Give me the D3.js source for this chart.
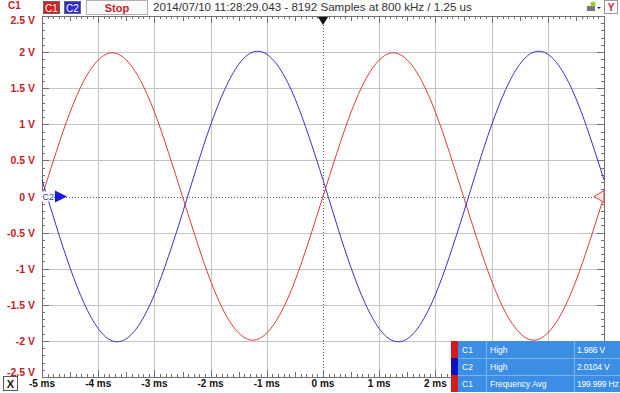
<!DOCTYPE html>
<html>
<head>
<meta charset="utf-8">
<script src="https://cdn.jsdelivr.net/npm/d3@7"></script>
<style>
  body { margin: 0; background: #fff; }
  svg { display: block; font-family: "Liberation Sans", Arial, sans-serif; }
</style>
</head>
<body>
<svg id="chart" width="620" height="393"></svg>
<script>
// sample times (ms) and the two traces
var times = [-5, -4.75, -4.5, -4.25, -4, -3.75, -3.5, -3.25, -3, -2.75, -2.5, -2.25, -2, -1.75, -1.5, -1.25, -1, -0.75, -0.5, -0.25,
             0, 0.25, 0.5, 0.75, 1, 1.25, 1.5, 1.75, 2, 2.25, 2.5, 2.75, 3, 3.25, 3.5, 3.75, 4, 4.25, 4.5, 4.75, 5];
var c1Values = [0, 0.61, 1.17, 1.61, 1.89, 1.99, 1.89, 1.61, 1.17, 0.61, 0, -0.61, -1.17, -1.61, -1.89, -1.99, -1.89, -1.61, -1.17, -0.61,
                0, 0.61, 1.17, 1.61, 1.89, 1.99, 1.89, 1.61, 1.17, 0.61, 0, -0.61, -1.17, -1.61, -1.89, -1.99, -1.89, -1.61, -1.17, -0.61, 0];
var c2Values = [0.23, -0.40, -0.99, -1.48, -1.83, -2.00, -1.97, -1.75, -1.36, -0.83, -0.23, 0.40, 0.99, 1.48, 1.83, 2.00, 1.97, 1.75, 1.36, 0.83,
                0.23, -0.40, -0.99, -1.48, -1.83, -2.00, -1.97, -1.75, -1.36, -0.83, -0.23, 0.40, 0.99, 1.48, 1.83, 2.00, 1.97, 1.75, 1.36, 0.83, 0.23];
var xTicks = [-5, -4, -3, -2, -1, 0, 1, 2, 3, 4, 5];
// 3, 4 and 5 ms labels sit under the measurement table on the screen
var xLabelTicks = [-5, -4, -3, -2, -1, 0, 1, 2];
var xTickLabels = ["-5 ms", "-4 ms", "-3 ms", "-2 ms", "-1 ms", "0 ms", "1 ms", "2 ms"];
var yTicks = [2.5, 2, 1.5, 1, 0.5, 0, -0.5, -1, -1.5, -2, -2.5];
var yTickLabels = ["2.5 V", "2 V", "1.5 V", "1 V", "0.5 V", "0 V", "-0.5 V", "-1 V", "-1.5 V", "-2 V", "-2.5 V"];
var measChannels = ["C1", "C2", "C1"];
var measNames = ["High", "High", "Frequency Avg"];
var measValues = ["1.986 V", "2.0104 V", "199.999 Hz"];
var header = "2014/07/10 11:28:29.043 - 8192 Samples at 800 kHz / 1.25 us";

var RED = "#e03a3a", BLUE = "#3434c4", LABEL_RED = "#c8202a";
var svg = d3.select("#chart");
var plotL = 42, plotR = 604, plotT = 16, plotB = 377;

var x = d3.scaleLinear().domain([-5, 5]).range([plotL, plotR]);
var y = d3.scaleLinear().domain([-2.5, 2.5]).range([plotB, plotT]);

// grid
var grid = svg.append("g");
grid.selectAll(".vg").data(xTicks.filter(function(d){ return d !== 0; }))
    .enter().append("line")
    .attr("x1", function(d){ return Math.round(x(d)) + 0.5; })
    .attr("x2", function(d){ return Math.round(x(d)) + 0.5; })
    .attr("y1", plotT).attr("y2", plotB)
    .attr("stroke", "#c4c4c4");
grid.selectAll(".hg").data(yTicks.filter(function(d){ return d !== 0; }))
    .enter().append("line")
    .attr("y1", function(d){ return Math.round(y(d)) + 0.5; })
    .attr("y2", function(d){ return Math.round(y(d)) + 0.5; })
    .attr("x1", plotL).attr("x2", plotR)
    .attr("stroke", "#c4c4c4");
// zero lines, dotted
grid.append("line")
    .attr("x1", Math.round(x(0)) + 0.5).attr("x2", Math.round(x(0)) + 0.5)
    .attr("y1", plotT).attr("y2", plotB)
    .attr("stroke", "#606060").attr("stroke-dasharray", "1,2");
grid.append("line")
    .attr("y1", Math.round(y(0)) + 0.5).attr("y2", Math.round(y(0)) + 0.5)
    .attr("x1", plotL).attr("x2", plotR)
    .attr("stroke", "#606060").attr("stroke-dasharray", "1,2");

// rulers with minor ticks
var ruler = svg.append("g").attr("stroke", "#707070").attr("shape-rendering", "crispEdges");
var xMinor = d3.range(-50, 51).map(function(i){ return i / 10; });
var yMinor = d3.range(-25, 26).map(function(i){ return i / 10; });
function tlen(i, n){ return (i % n === 0) ? 7 : ((i % (n/2) === 0) ? 5 : 3); }
xMinor.forEach(function(d, i){
    var px = Math.round(x(d)) + 0.5, l = tlen(i, 10);
    ruler.append("line").attr("x1", px).attr("x2", px).attr("y1", plotT).attr("y2", plotT + l);
    ruler.append("line").attr("x1", px).attr("x2", px).attr("y1", plotB).attr("y2", plotB - l);
});
yMinor.forEach(function(d, i){
    var py = Math.round(y(d)) + 0.5, l = tlen(i, 5);
    ruler.append("line").attr("y1", py).attr("y2", py).attr("x1", plotL).attr("x2", plotL + l);
    ruler.append("line").attr("y1", py).attr("y2", py).attr("x1", plotR).attr("x2", plotR - l);
});
ruler.append("rect").attr("x", plotL + 0.5).attr("y", plotT + 0.5)
    .attr("width", plotR - plotL).attr("height", plotB - plotT)
    .attr("fill", "none");

// traces
var c1Data = times.map(function(t, i){ return {t: t, v: c1Values[i]}; });
var c2Data = times.map(function(t, i){ return {t: t, v: c2Values[i]}; });
var line = d3.line()
    .x(function(d){ return x(d.t); })
    .y(function(d){ return y(d.v); })
    .curve(d3.curveNatural);
svg.append("path").attr("d", line(c1Data)).attr("fill", "none").attr("stroke", RED).attr("stroke-width", 1);
svg.append("path").attr("d", line(c2Data)).attr("fill", "none").attr("stroke", BLUE).attr("stroke-width", 1);

// y labels (the end ones are pulled inside the plot height)
svg.selectAll(".yl").data(yTicks).enter().append("text")
    .attr("x", 35).attr("y", function(d){
        if (d === 2.5) return y(d) + 8;
        if (d === -2.5) return y(d) - 1;
        return y(d) + 4;
    })
    .attr("text-anchor", "end")
    .attr("font-size", 10.5).attr("font-weight", "bold")
    .attr("fill", LABEL_RED)
    .text(function(d, i){ return yTickLabels[i]; });

// x labels
svg.selectAll(".xl").data(xLabelTicks).enter().append("text")
    .attr("x", function(d){ return x(d); }).attr("y", 387)
    .attr("text-anchor", "middle")
    .attr("font-size", 10).attr("font-weight", "bold")
    .attr("fill", "#111")
    .text(function(d, i){ return xTickLabels[i]; });

// X button
svg.append("rect").attr("x", 3.5).attr("y", 376.5).attr("width", 14).attr("height", 14)
    .attr("fill", "#fff").attr("stroke", "#555");
svg.append("text").attr("x", 10.5).attr("y", 388).attr("text-anchor", "middle")
    .attr("font-size", 11).attr("font-weight", "bold").attr("fill", "#111").text("X");

// header bar
svg.append("text").attr("x", 8).attr("y", 9).attr("font-size", 10).attr("font-weight", "bold")
    .attr("fill", LABEL_RED).text("C1");
svg.append("rect").attr("x", 43.5).attr("y", 1.5).attr("width", 16).attr("height", 12)
    .attr("fill", "#d42020").attr("stroke", "#666");
svg.append("text").attr("x", 51.5).attr("y", 11.5).attr("text-anchor", "middle")
    .attr("font-size", 10).attr("fill", "#fff").text("C1");
svg.append("rect").attr("x", 64.5).attr("y", 1.5).attr("width", 16).attr("height", 12)
    .attr("fill", "#2a2ad0").attr("stroke", "#666");
svg.append("text").attr("x", 72.5).attr("y", 11.5).attr("text-anchor", "middle")
    .attr("font-size", 10).attr("fill", "#fff").text("C2");
svg.append("rect").attr("x", 86.5).attr("y", 0.5).attr("width", 61).attr("height", 14)
    .attr("fill", "#fafafa").attr("stroke", "#b0b0b0");
svg.append("text").attr("x", 117).attr("y", 12).attr("text-anchor", "middle")
    .attr("font-size", 11).attr("font-weight", "bold").attr("fill", LABEL_RED).text("Stop");
svg.append("text").attr("x", 153).attr("y", 11).attr("font-size", 11.6)
    .attr("fill", "#333").text(header);
// Y button and icon
svg.append("rect").attr("x", 604.5).attr("y", 0.5).attr("width", 13).attr("height", 13)
    .attr("fill", "#fff").attr("stroke", "#999");
svg.append("text").attr("x", 611).attr("y", 11).attr("text-anchor", "middle")
    .attr("font-size", 10).attr("font-weight", "bold").attr("fill", LABEL_RED).text("Y");
svg.append("rect").attr("x", 587).attr("y", 6).attr("width", 8).attr("height", 5).attr("fill", "#777");
svg.append("circle").attr("cx", 593).attr("cy", 4).attr("r", 2.5).attr("fill", "#9acd32");
svg.append("path").attr("d", "M597,7 L601,7 L599,9 Z").attr("fill", "#333");

// trigger marker on top ruler
svg.append("path")
    .attr("d", "M" + (x(0) - 5) + "," + (plotT + 1) + " L" + (x(0) + 5) + "," + (plotT + 1) + " L" + x(0) + "," + (plotT + 9) + " Z")
    .attr("fill", "#111");

// C2 offset marker on the left
svg.append("rect").attr("x", 42).attr("y", y(0) - 5).attr("width", 12).attr("height", 10).attr("fill", "#fff");
svg.append("text").attr("x", 42.5).attr("y", y(0) + 3.5).attr("font-size", 9)
    .attr("fill", BLUE).text("C2");
svg.append("path")
    .attr("d", "M55," + (y(0) - 6) + " L67," + y(0) + " L55," + (y(0) + 6) + " Z")
    .attr("fill", "#1a1ae0");
// C1 offset marker on the right
svg.append("path")
    .attr("d", "M" + plotR + "," + (y(0) - 6) + " L" + (plotR - 10) + "," + y(0) + " L" + plotR + "," + (y(0) + 6) + " Z")
    .attr("fill", "#ffe8e8").attr("stroke", RED);

// measurement table
var tx = 451, ty = 341, rowH = 17, tw = 169;
var table = svg.append("g");
table.append("rect").attr("x", tx).attr("y", ty).attr("width", tw).attr("height", rowH * 3)
    .attr("fill", "#3b8ee3");
measChannels.forEach(function(c, i){
    var ry = ty + i * rowH;
    table.append("rect").attr("x", tx).attr("y", ry).attr("width", 7).attr("height", rowH)
        .attr("fill", c === "C1" ? "#d41c1c" : "#1010c0");
    if (i > 0) table.append("line").attr("x1", tx + 7).attr("x2", tx + tw)
        .attr("y1", ry + 0.5).attr("y2", ry + 0.5).attr("stroke", "#7ab4ef");
    table.append("text").attr("x", tx + 11).attr("y", ry + 12).attr("font-size", 8.5).attr("fill", "#fff").text(c);
    table.append("text").attr("x", tx + 39).attr("y", ry + 12).attr("font-size", 8.5).attr("fill", "#fff").text(measNames[i]);
    table.append("text").attr("x", tx + 126).attr("y", ry + 12).attr("font-size", 8.5).attr("fill", "#fff")
        .attr("letter-spacing", -0.2).text(measValues[i]);
});
[tx + 35, tx + 123].forEach(function(cx){
    table.append("line").attr("x1", cx + 0.5).attr("x2", cx + 0.5).attr("y1", ty).attr("y2", ty + rowH * 3)
        .attr("stroke", "#7ab4ef");
});
</script>
</body>
</html>
